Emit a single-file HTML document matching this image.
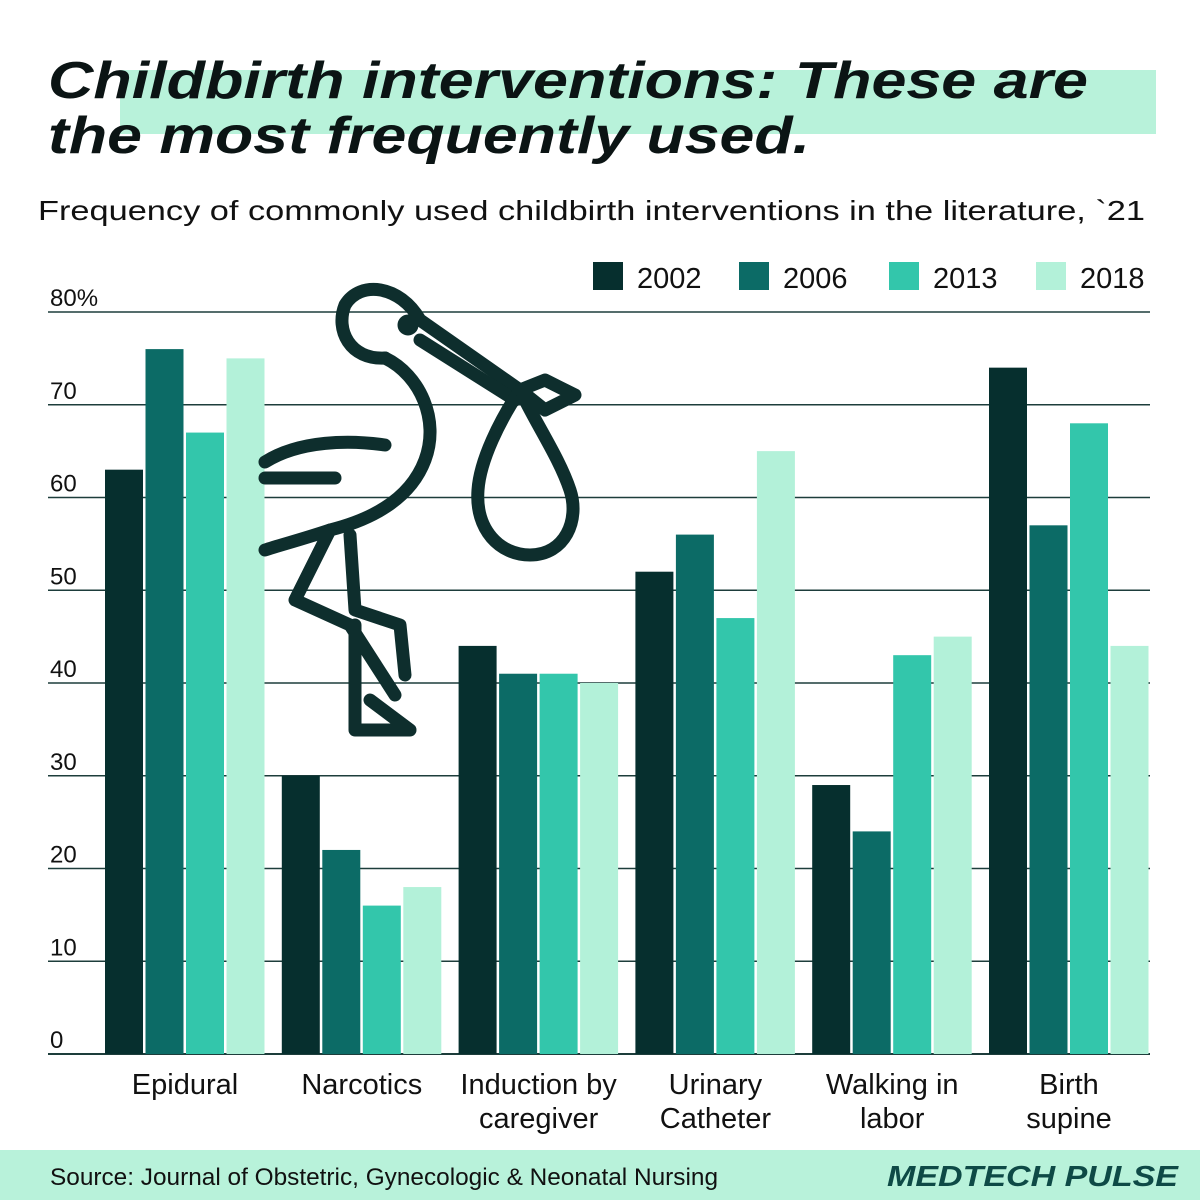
<!DOCTYPE html>
<html><head><meta charset="utf-8">
<style>
html,body{margin:0;padding:0;background:#fff;}
body{width:1200px;height:1200px;position:relative;overflow:hidden;font-family:"Liberation Sans",sans-serif;color:#0d1f1e;}
svg{position:absolute;left:0;top:0;}
</style></head>
<body>
<svg id="chart" width="1200" height="1200">
  <rect x="120" y="70" width="1036" height="64" fill="#b8f2da"/>
  <text x="48" y="98" font-size="52" font-weight="bold" font-style="italic" fill="#0b1414" textLength="1040" lengthAdjust="spacingAndGlyphs">Childbirth interventions: These are</text>
  <text x="48" y="153" font-size="52" font-weight="bold" font-style="italic" fill="#0b1414" textLength="762" lengthAdjust="spacingAndGlyphs">the most frequently used.</text>
  <text x="38" y="220" font-size="28" fill="#111" textLength="1107" lengthAdjust="spacingAndGlyphs">Frequency of commonly used childbirth interventions in the literature, `21</text>
  <g id="grid"></g>
  <g id="bars"></g>
  <g id="stork" fill="none" stroke="#0e2e2d" stroke-width="13" stroke-linecap="round" stroke-linejoin="round">
    <path d="M385 358 C350 360 335 330 345 305 C360 280 400 285 420 320 L520 390"/>
    <path d="M420 340 L515 400"/>
    <circle cx="408" cy="325" r="4" fill="#0e2e2d"/>
    <path d="M385 358 C420 375 440 420 425 460 C410 500 370 520 330 530 C300 540 280 545 265 550"/>
    <path d="M265 462 C300 440 350 440 385 445"/>
    <path d="M265 478 L335 478"/>
    <path d="M330 530 L295 600 L350 625 L395 695"/>
    <path d="M350 535 L355 610 L400 625 L405 675"/>
    <path d="M355 625 L355 730 L410 730 L370 700"/>
    <path d="M520 390 C500 420 480 460 478 490 C475 530 500 555 530 555 C565 555 580 520 570 490 C560 460 540 430 525 400"/>
    <path d="M520 390 L545 380 L575 395 L545 410 Z"/>
  </g>
  <g id="legend"></g>
  <rect x="0" y="1150" width="1200" height="50" fill="#b8f2da"/>
  <text x="50" y="1185" font-size="24" fill="#111" textLength="668" lengthAdjust="spacingAndGlyphs">Source: Journal of Obstetric, Gynecologic &amp; Neonatal Nursing</text>
  <text x="887" y="1186" font-size="29" font-weight="bold" font-style="italic" fill="#0e4a46" textLength="291" lengthAdjust="spacingAndGlyphs">MEDTECH PULSE</text>
</svg>
<script>
const categories = ["Epidural","Narcotics","Induction by|caregiver","Urinary|Catheter","Walking in|labor","Birth|supine"];
const seriesNames = ["2002","2006","2013","2018"];
const s2002 = [63,30,44,52,29,74];
const s2006 = [76,22,41,56,24,57];
const s2013 = [67,16,41,47,43,68];
const s2018 = [75,18,40,65,45,44];
const ticks = [0,10,20,30,40,50,60,70,80];
const tickLabels = ["0","10","20","30","40","50","60","70","80%"];

const colors = ["#062f2e","#0c6b66","#33c6ab","#b3f1d9"];
const series = [s2002,s2006,s2013,s2018];
const NS = "http://www.w3.org/2000/svg";
const y0 = 1054, pxPer = 742/80;
function yScale(v){ return y0 - v*pxPer; }
function xGroup(i){ return 105 + i*176.8; }
function mk(tag, attrs, parent){ const e=document.createElementNS(NS,tag); for(const k in attrs) e.setAttribute(k,attrs[k]); parent.appendChild(e); return e; }

const grid = document.getElementById('grid');
ticks.forEach((t,i)=>{
  const y = yScale(t);
  const l = mk('line',{x1:48,x2:1150,y1:y,y2:y,stroke:'#1d3d3b','stroke-width':i===0?2:1.5},grid);
  
  
  const tx = mk('text',{x:50,y:y-6,'font-size':24,fill:'#111'},grid);
  tx.textContent = tickLabels[i];
  
  
});

const bars = document.getElementById('bars');
categories.forEach((c,ci)=>{
  series.forEach((s,si)=>{
    const x = xGroup(ci) + si*40.5;
    const r = mk('rect',{x:x,y:yScale(s[ci]),width:38,height:y0-yScale(s[ci]),fill:colors[si]},bars);
    
    
  });
  const cx = xGroup(ci) + 80;
  c.split('|').forEach((line,li)=>{
    const t = mk('text',{x:cx,y:1094+li*34,'font-size':29,fill:'#111','text-anchor':'middle'},bars);
    t.textContent = line;
    
    
  });
});

const legend = document.getElementById('legend');
const lx = [593,739,889,1036];
seriesNames.forEach((n,i)=>{
  const r = mk('rect',{x:lx[i],y:262,width:30,height:28,fill:colors[i]},legend);
  
  
  const t = mk('text',{x:lx[i]+44,y:288,'font-size':29,fill:'#111'},legend);
  t.textContent = n;
  
  
});
</script>
</body></html>
